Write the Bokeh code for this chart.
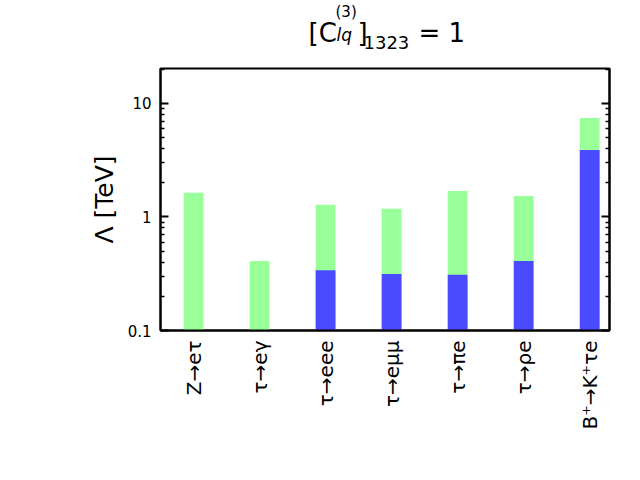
import math
from bokeh.plotting import figure
from bokeh.layouts import column
from bokeh.models import LogAxis, FixedTicker, Range1d, CustomJSTickFormatter
from bokeh.core.properties import value
from bokeh.embed import file_html
from bokeh.resources import INLINE

# ---- data ----
processes = ["Z→eτ", "τ→eγ", "τ→eee", "τ→eμμ", "τ→πe", "τ→ρe", "B⁺→K⁺τe"]
lambda_green = [1.63, 0.41, 1.28, 1.18, 1.69, 1.53, 7.45]
lambda_blue = [None, None, 0.34, 0.315, 0.31, 0.41, 3.89]
y_ticks = [0.1, 1, 10]
y_min, y_max = 0.1, 20.3

FONT = "DejaVu Sans"

xs = [i + 0.5 for i in range(len(processes))]
bx = [x for x, v in zip(xs, lambda_blue) if v is not None]
bv = [v for v in lambda_blue if v is not None]

FW, FH = 449, 262
BL, BR, TOPH = 160, 23, 60
p = figure(frame_width=FW, frame_height=FH,
           min_border_left=BL, min_border_right=BR, min_border_top=8, min_border_bottom=134,
           x_range=Range1d(0, len(processes) - 0.2), y_range=Range1d(y_min, y_max),
           y_axis_type="log", output_backend="svg", toolbar_location=None)
p.grid.visible = False
p.outline_line_color = "black"
p.outline_line_width = 2
p.background_fill_color = "white"
p.border_fill_color = "white"

p.vbar(x=xs, top=lambda_green, bottom=y_min, width=0.3, fill_color="#99ff99", line_color=None)
p.vbar(x=bx, top=bv, bottom=y_min, width=0.3, fill_color="#4a4aff", line_color=None)

minor = [m * t for t in y_ticks for m in range(2, 10)]
yt = FixedTicker(ticks=y_ticks, minor_ticks=minor)

# x axis
xa = p.xaxis[0]
xa.ticker = FixedTicker(ticks=xs)
xa.major_label_overrides = {x: s for x, s in zip(xs, processes)}
xa.major_label_orientation = math.pi / 2
xa.major_tick_in = 0
xa.major_tick_out = 0
xa.minor_tick_in = 0
xa.minor_tick_out = 0
xa.axis_line_width = 2
xa.major_label_standoff = 10
xa.major_label_text_font = FONT
xa.major_label_text_font_size = "20px"
xa.major_label_text_color = "black"

# y axis
ya = p.yaxis[0]
ya.ticker = yt
ya.formatter = CustomJSTickFormatter(code="return tick.toString()")
ya.major_tick_in = 8
ya.major_tick_out = 0
ya.minor_tick_in = 4
ya.minor_tick_out = 0
ya.major_tick_line_width = 2
ya.minor_tick_line_width = 1.5
ya.axis_line_width = 2
ya.major_label_standoff = 9
ya.major_label_text_font = FONT
ya.major_label_text_font_size = "15px"
ya.major_label_text_color = "black"
ya.axis_label = "Λ [TeV]"
ya.axis_label_text_font = FONT
ya.axis_label_text_font_style = "normal"
ya.axis_label_text_font_size = "25px"
ya.axis_label_text_color = "black"
ya.axis_label_standoff = 6

ra = LogAxis(ticker=yt, major_tick_in=8, major_tick_out=0, minor_tick_in=4, minor_tick_out=0,
             major_tick_line_width=2, minor_tick_line_width=1.5, axis_line_width=2,
             formatter=CustomJSTickFormatter(code="return ''"))
p.add_layout(ra, "right")

# ---- title: [C_{lq}^{(3)}]_{1323} = 1, drawn in a pixel-scaled strip above ----
t = figure(frame_width=FW, frame_height=TOPH,
           min_border_left=BL, min_border_right=BR, min_border_top=0, min_border_bottom=0,
           x_range=Range1d(BL, BL + FW), y_range=Range1d(TOPH, 0),
           x_axis_location=None, y_axis_location=None,
           output_backend="svg", toolbar_location=None)
t.grid.visible = False
t.outline_line_color = None
t.background_fill_color = "white"
t.border_fill_color = "white"

def piece(x, y, s, size, style="normal"):
    t.text(x=[x], y=[y], text=[s], text_font=value(FONT), text_font_size=size,
           text_font_style=style, text_baseline="alphabetic", text_align="left",
           text_color="black")

piece(308, 32, "[C", "26px")
piece(335, 11, "(3)", "15px")
piece(336, 34, "lq", "17px", "italic")
piece(357, 32, "]", "26px")
piece(363, 42, "1323", "18px")
piece(418, 32, "= 1", "26px")

layout = column(t, p, spacing=0)
open("out.html", "w").write(file_html(layout, INLINE))
